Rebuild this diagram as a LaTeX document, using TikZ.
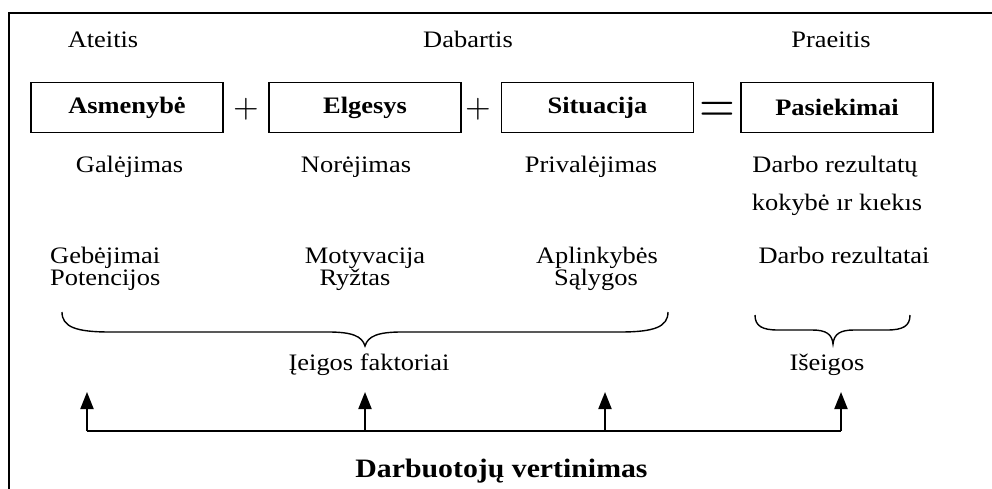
\documentclass[tikz,border=0pt]{standalone}
\usepackage{graphicx}
\usepackage{fontspec}
\setmainfont{Liberation Serif}[FakeStretch=1.12]
\usetikzlibrary{arrows.meta}

\tikzset{
  txt/.style={anchor=base, inner sep=0pt, font=\fontsize{23.6}{28}\selectfont},
  txtl/.style={txt, anchor=base west},
  factorbox/.style={draw, line width=1.6pt, minimum width=192pt, minimum height=50pt,
    inner sep=0pt, font=\fontsize{23.6}{28}\selectfont\bfseries},
  oper/.style={anchor=base, inner sep=0pt, font=\normalsize},
  bracel/.style={line width=1.4pt},
  feed/.style={line width=2pt},
  up/.style={feed, -{Triangle[width=13pt,length=17pt]}},
  frameline/.style={line width=2pt}
}

\begin{document}
\begin{tikzpicture}[x=1pt, y=-1pt]
\useasboundingbox (0,0) rectangle (992,489);

% open frame: top edge and left edge
\draw[frameline] (992,13) -- (9,13) -- (9,489);

% time labels
\node[txt] (future)  at (103,47.5) {Ateitis};
\node[txt] (present) at (468,47.5) {Dabartis};
\node[txt] (past)    at (831,47.5) {Praeitis};

% the equation
\node[factorbox] (pers) at (127,107.5) {Asmenybė};
\node[factorbox] (beh)  at (365,107.5) {Elgesys};
\node[factorbox] (sit)  at (597.5,107.5) {Situacija};
\node[factorbox] (res)  at (837,107.5) {Pasiekimai};
\node[oper] (plusA) at (246,117.75) {\scalebox{3.3}{$+$}};
\node[oper] (plusB) at (478,117.75) {\scalebox{3.3}{$+$}};
\node[oper] (eq)    at (717,123) {\scalebox{4.6}[5.5]{$=$}};

% what each factor stands for
\node[txt] (can)   at (129.5,172) {Galėjimas};
\node[txt] (want)  at (356,172)   {Norėjimas};
\node[txt] (must)  at (591,172)   {Privalėjimas};
\node[txt] (outA)  at (835,172)   {Darbo rezultatų};
\node[txt] (outB)  at (837,210)   {kokybė ır kıekıs};

% concrete factors
\node[txtl] (abil)  at (50,263)  {Gebėjimai};
\node[txtl] (pot)   at (50,285)  {Potencijos};
\node[txt]  (motiv) at (365,263) {Motyvacija};
\node[txt]  (will)  at (355,285) {Ryžtas};
\node[txt]  (circ)  at (597,263) {Aplinkybės};
\node[txt]  (cond)  at (596,285) {Sąlygos};
\node[txt]  (work)  at (844,263) {Darbo rezultatai};

% braces grouping inputs and outputs
\draw[bracel] (62,312) .. controls (62,327) and (76,332) .. (110,332) -- (328,332)
  .. controls (352,332) and (362,336) .. (365,346)
  .. controls (368,336) and (378,332) .. (402,332) -- (620,332)
  .. controls (654,332) and (668,327) .. (668,312);
\draw[bracel] (755,315) .. controls (755,326) and (762,330) .. (778,330) -- (812,330)
  .. controls (826,330) and (832,334) .. (833,344)
  .. controls (834,334) and (840,330) .. (854,330) -- (887,330)
  .. controls (903,330) and (910,326) .. (910,315);

\node[txt] (inputs)  at (369,370) {Įeigos faktoriai};
\node[txt] (outputs) at (827,370) {Išeigos};

% evaluation feeds back to every factor
\coordinate (b1) at (87,431);
\coordinate (b2) at (365,431);
\coordinate (b3) at (605,431);
\coordinate (b4) at (841,431);
\coordinate (t1) at (87,392);
\coordinate (t2) at (365,392);
\coordinate (t3) at (605,392);
\coordinate (t4) at (841,392);
\draw[feed] (b1) -- (b4);
\draw[up] (b1) -- (t1);
\draw[up] (b2) -- (t2);
\draw[up] (b3) -- (t3);
\draw[up] (b4) -- (t4);

\node[txt, font=\fontsize{26.6}{32}\selectfont\bfseries] (eval) at (501.5,477) {Darbuotojų vertinimas};
\end{tikzpicture}
\end{document}
